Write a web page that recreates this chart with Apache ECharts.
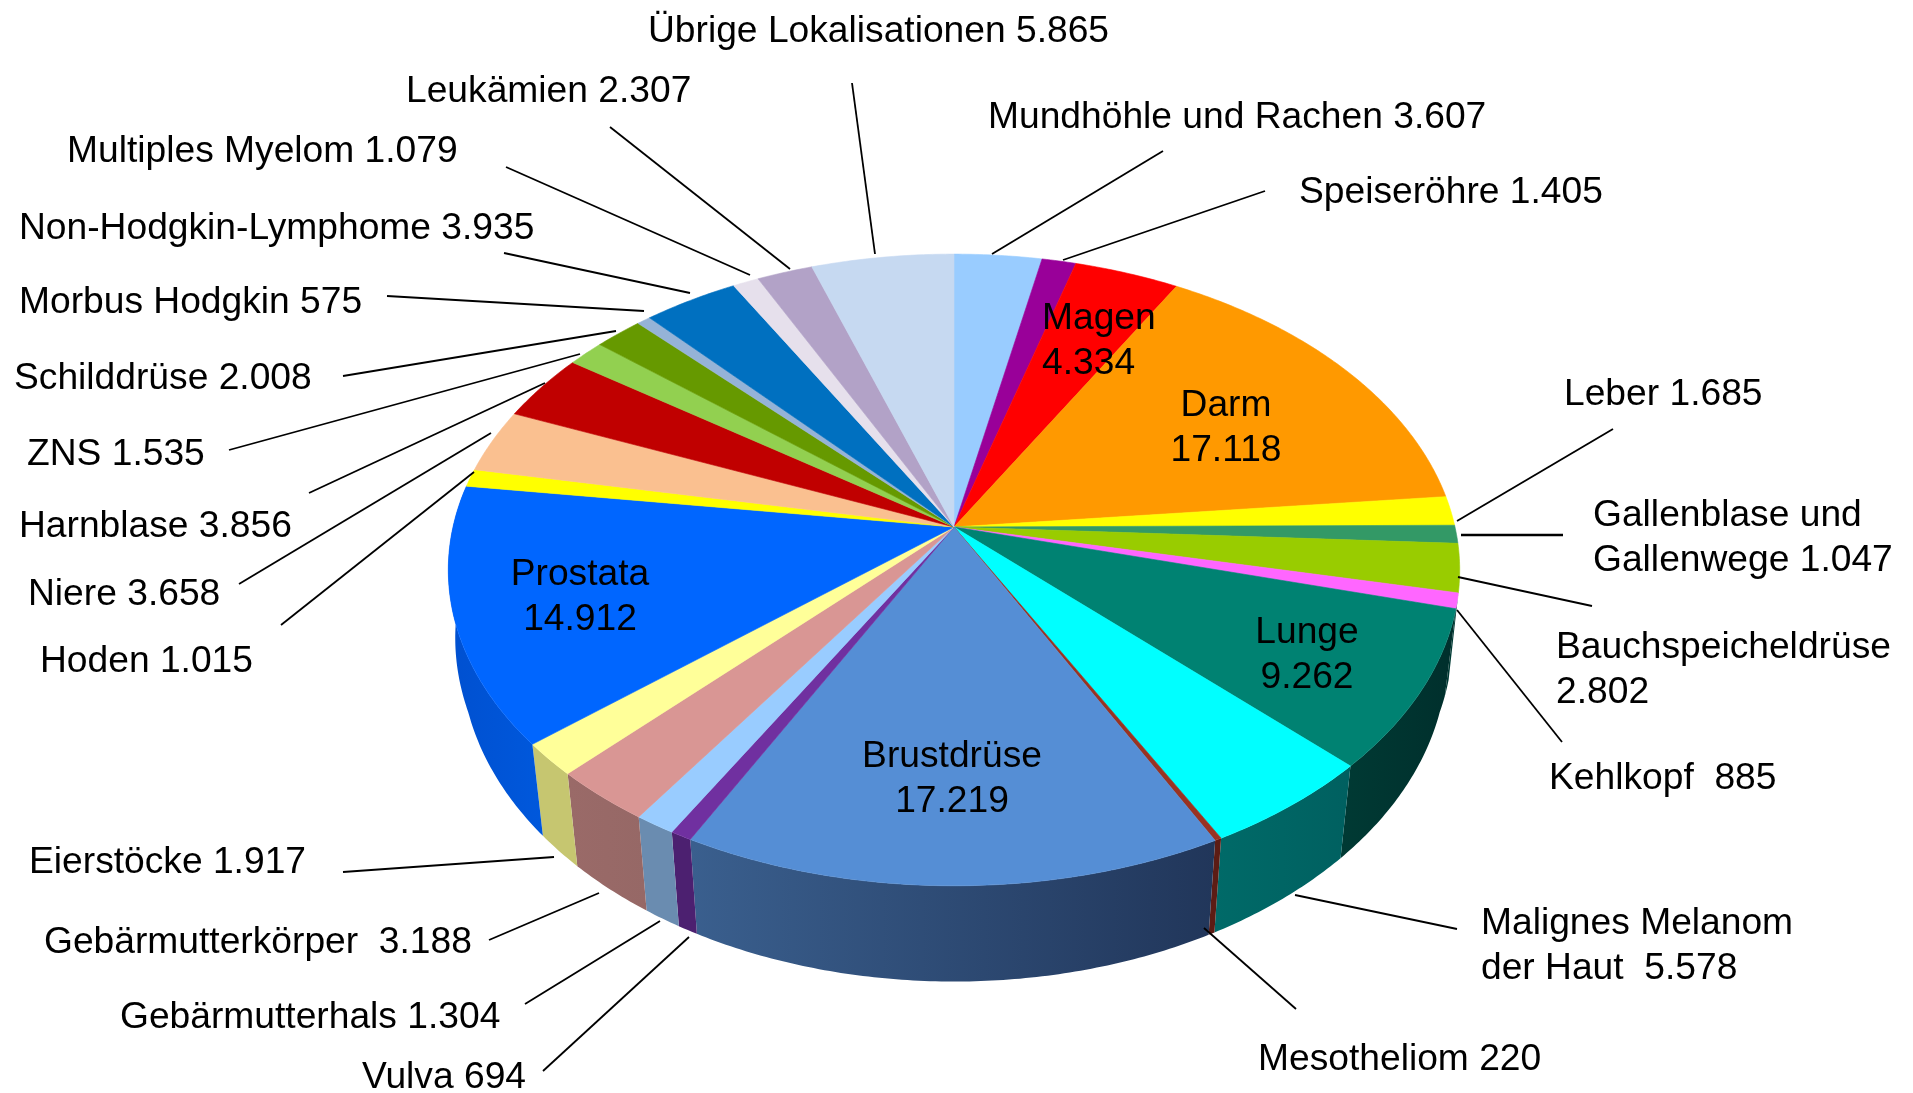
<!DOCTYPE html>
<html>
<head>
<meta charset="utf-8">
<style>
  html, body { margin: 0; height: 100%; background: #fff; }
  #chart { width: 100%; height: 100%; }
</style>
<script src="https://cdn.jsdelivr.net/npm/echarts@6/dist/echarts.min.js"></script>
</head>
<body>
<div id="chart"></div>
<script>
// clockwise from 12 o'clock. trailing \n = number goes on its own line
const names = ['Mundhöhle und Rachen', 'Speiseröhre', 'Magen\n', 'Darm\n', 'Leber', 'Gallenblase und\nGallenwege', 'Bauchspeicheldrüse\n', 'Kehlkopf ', 'Lunge\n', 'Malignes Melanom\nder Haut ', 'Mesotheliom', 'Brustdrüse\n', 'Vulva', 'Gebärmutterhals', 'Gebärmutterkörper ', 'Eierstöcke', 'Prostata\n', 'Hoden', 'Niere', 'Harnblase', 'ZNS', 'Schilddrüse', 'Morbus Hodgkin', 'Non-Hodgkin-Lymphome', 'Multiples Myelom', 'Leukämien', 'Übrige Lokalisationen']
const values = [3607, 1405, 4334, 17118, 1685, 1047, 2802, 885, 9262, 5578, 220, 17219, 694, 1304, 3188, 1917, 14912, 1015, 3658, 3856, 1535, 2008, 575, 3935, 1079, 2307, 5865]
const topColors = ['#99ccff', '#990099', '#ff0000', '#ff9900', '#ffff00', '#339966', '#99cc00', '#ff66ff', '#008272', '#00ffff', '#993322', '#558ed5', '#7030a0', '#99ccff', '#d99694', '#ffff99', '#0066ff', '#ffff00', '#fac090', '#c00000', '#92d050', '#669900', '#95b3d7', '#0070c0', '#e6e0ec', '#b2a2c7', '#c6d9f1']
// side wall, left and right end of the gradient
const wallColors = [null, null, null, null, null, null, null, ['#003a34', '#003a34'], ['#003a34', '#002f2c'], ['#006a68', '#006060'], ['#5c1c14', '#5c1c14'], ['#3a5f8e', '#21365a'], ['#4c2070', '#4c2070'], ['#6a8cb0', '#6a8cb0'], ['#9a6a68', '#966866'], ['#c6c670', '#c6c670'], ['#0050d0', '#0058dc'], null, null, null, null, null, null, null, null, null, null]

// label anchor [x, y of first line, align], leader line [x1, y1, x2, y2]; null = no leader
const labelPos = [
  [988, 116, 'left'], [1299, 191, 'left'], [1042, 317, 'left'], [1226, 404, 'center'], [1564, 393, 'left'],
  [1593, 514, 'left'], [1556, 646, 'left'], [1549, 777, 'left'], [1307, 631, 'center'], [1481, 922, 'left'],
  [1258, 1058, 'left'], [952, 755, 'center'], [362, 1076, 'left'], [120, 1016, 'left'], [44, 941, 'left'],
  [29, 861, 'left'], [580, 573, 'center'], [40, 660, 'left'], [28, 593, 'left'], [19, 525, 'left'],
  [27, 453, 'left'], [14, 377, 'left'], [19, 301, 'left'], [19, 227, 'left'], [67, 150, 'left'],
  [406, 90, 'left'], [648, 30, 'left']
]
const leaders = [
  [1163, 151, 992, 254], [1265, 191, 1063, 260], null, null, [1613, 429, 1457, 521],
  [1563, 535, 1461, 535], [1592, 606, 1458, 577], [1562, 742, 1457, 610], null, [1457, 929, 1295, 895],
  [1296, 1009, 1204, 928], null, [543, 1071, 689, 937], [525, 1004, 660, 921], [489, 940, 599, 893],
  [343, 872, 554, 857], null, [281, 625, 474, 472], [239, 584, 491, 433], [309, 493, 545, 383],
  [229, 450, 580, 354], [343, 376, 616, 331], [387, 296, 644, 311], [504, 253, 690, 293], [506, 167, 750, 275],
  [610, 127, 790, 269], [852, 83, 875, 254]
]

const total = values.reduce((a, b) => a + b, 0)
const cx = 954
const cy = 527
const radiusX = 501
const radiusY = 310
const persp = 0.136 // near side of the disc looks bigger

function startAngle(i) {
  let sum = 0
  for (let k = 0; k < i; k++) sum += values[k]
  return sum / total * Math.PI * 2
}

// point on the rim of the top face
function rim(a) {
  const x = Math.sin(a)
  const y = -Math.cos(a)
  const d = 1 - persp * y
  return [cx + radiusX * x / d, cy + radiusY * y / d]
}

// same rim, bottom face. a bit narrower, less so towards the sides
function rimLow(a) {
  const p = rim(a)
  const t = Math.min(1, Math.max(0, (625 - p[1]) / 85))
  return [cx + (p[0] - cx) * (0.975 + 0.015 * t), cy + (p[1] - cy) * 1.03 + 85]
}

function arc(i, fn) {
  const a0 = startAngle(i)
  const a1 = a0 + values[i] / total * Math.PI * 2
  const n = Math.max(2, Math.ceil((a1 - a0) / 0.01))
  const pts = []
  for (let k = 0; k <= n; k++) pts.push(fn(a0 + (a1 - a0) * k / n))
  return pts
}

function labelText(i) {
  const name = names[i]
  const num = values[i].toLocaleString('de-DE')
  return name.endsWith('\n') ? name + num : name + ' ' + num
}

const chart = echarts.init(document.getElementById('chart'))
chart.setOption({
  animation: false,
  series: [
    {
      type: 'custom',
      name: 'wall',
      coordinateSystem: 'none',
      silent: true,
      z: 1,
      data: values,
      renderItem(params) {
        const i = params.dataIndex
        if (!wallColors[i]) return { type: 'group' }
        const pts = arc(i, rim).concat(arc(i, rimLow).reverse())
        const c = wallColors[i]
        const fill = new echarts.graphic.LinearGradient(0, 0, 1, 0, [
          { offset: 0, color: c[0] }, { offset: 1, color: c[1] }
        ])
        return { type: 'polygon', shape: { points: pts }, style: { fill: fill } }
      }
    },
    {
      type: 'custom',
      name: 'top',
      coordinateSystem: 'none',
      silent: true,
      z: 2,
      data: values,
      renderItem(params) {
        const i = params.dataIndex
        const pts = [[cx, cy]].concat(arc(i, rim))
        return {
          type: 'polygon',
          shape: { points: pts },
          style: { fill: topColors[i], stroke: topColors[i], lineWidth: 0.6 }
        }
      }
    },
    {
      type: 'custom',
      name: 'labels',
      coordinateSystem: 'none',
      silent: true,
      z: 3,
      data: values,
      renderItem(params) {
        const i = params.dataIndex
        const children = []
        if (leaders[i]) {
          const l = leaders[i]
          children.push({
            type: 'line',
            shape: { x1: l[0], y1: l[1], x2: l[2], y2: l[3] },
            style: { stroke: '#000', lineWidth: i === 5 ? 2.6 : 1.8 }
          })
        }
        const p = labelPos[i]
        const text = labelText(i)
        const extraLines = text.split('\n').length - 1
        children.push({
          type: 'text',
          x: p[0],
          y: p[1] + 1.5 + extraLines * 22.5,
          style: {
            text: text,
            fill: '#000',
            font: '37.2px "Liberation Sans", Arial, sans-serif',
            align: p[2],
            verticalAlign: 'middle',
            lineHeight: 45
          }
        })
        return { type: 'group', children: children }
      }
    }
  ]
})
window.addEventListener('resize', () => chart.resize())
</script>
</body>
</html>
